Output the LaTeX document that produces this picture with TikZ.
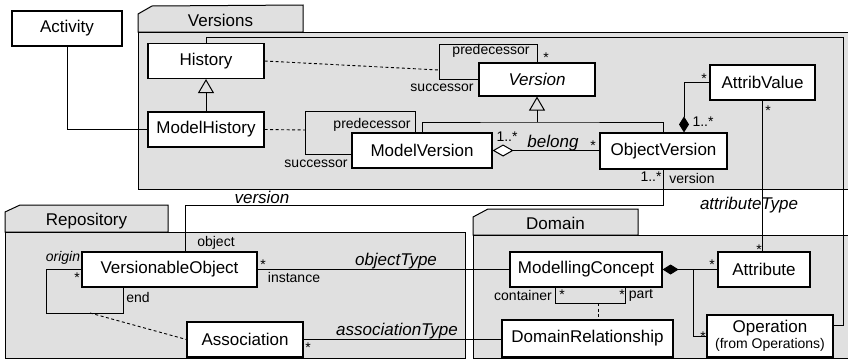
\documentclass[tikz,border=0pt]{standalone}
\usepackage{fontspec}
\setmainfont{Liberation Sans}
\usetikzlibrary{arrows.meta}

\tikzset{
  classe/.style={draw, fill=white, line width=1.1pt, inner sep=0pt, minimum height=35pt, font=\fontsize{17}{20}\selectfont},
  paquet/.style={draw, fill=black!12, line width=1pt},
  titre/.style={inner sep=0pt, font=\fontsize{17}{20}\selectfont},
  lien/.style={line width=1pt},
  pointille/.style={line width=0.9pt, dash pattern=on 3pt off 2.5pt},
  role/.style={inner sep=0pt, font=\fontsize{14}{16}\selectfont},
  nomassoc/.style={inner sep=0pt, font=\fontsize{17}{20}\selectfont\itshape},
  herite/.style={lien, -{Triangle[open, length=14pt, width=16pt]}},
  agreg/.style={lien, {Diamond[fill=white, length=21pt, width=12pt]}-},
  compo/.style={lien, {Diamond[length=16pt, width=10pt]}-},
}

\begin{document}
\begin{tikzpicture}[x=1pt, y=-1pt]
    \fill[white] (0,0) rectangle (848,362);
    \clip (0,0) rectangle (848,362);

    % Paquet Versions
    \draw[paquet] (138,14) -- (152,6) -- (303,5) -- (303,32) -- (138,32) -- cycle;
    \draw[paquet] (138,32) rectangle (852,189);
    \node[titre] (pversions) at (220.5,20) {Versions};

    % Paquet Repository
    \draw[paquet] (5,212) -- (20,205) -- (168,205) -- (168,232) -- (5,232) -- cycle;
    \draw[paquet] (5,232) rectangle (465,358);
    \node[titre] (prepository) at (86.5,221) {Repository};

    % Paquet Domain
    \draw[paquet] (473,217) -- (488,209) -- (638,209) -- (638,235) -- (473,235) -- cycle;
    \draw[paquet] (473,235) rectangle (852,358);
    \node[titre] (pdomain) at (555.5,223) {Domain};

    % Classes
    \node[classe, minimum width=110pt] (activity) at (67,28.5) {Activity};
    \node[classe, minimum width=116pt] (history) at (206,61) {History};
    \node[classe, minimum width=116pt] (modelhistory) at (206,129.5) {ModelHistory};
    \node[classe, minimum width=116pt, minimum height=33pt] (version) at (537,79.5) {\itshape Version};
    \node[classe, minimum width=140pt] (modelversion) at (422,150.5) {ModelVersion};
    \node[classe, minimum width=127pt, minimum height=36pt] (objectversion) at (663.5,151) {ObjectVersion};
    \node[classe, minimum width=105pt] (attribvalue) at (762.5,82.5) {AttribValue};
    \node[classe, minimum width=175pt] (versionable) at (169.5,269.5) {VersionableObject};
    \node[classe, minimum width=116pt] (association) at (245,339.5) {Association};
    \node[classe, minimum width=152pt] (concept) at (586,269.5) {ModellingConcept};
    \node[classe, minimum width=92pt] (attribute) at (764,269.5) {Attribute};
    \node[classe, minimum width=171pt, minimum height=37pt] (domainrel) at (587.5,338.5) {DomainRelationship};
    \node[classe, minimum width=126pt, minimum height=42pt, align=center] (operation) at (770,336)
        {Operation\\[-4pt]{\fontsize{14}{16}\selectfont (from Operations)}};

    % Coins et points libres
    \coordinate (vgen) at (537,122);
    \coordinate (vboucle) at (439,44);
    \coordinate (vlien) at (439,70);
    \coordinate (mvboucle) at (305,111);
    \coordinate (mvlien) at (305,130);
    \coordinate (voboucle) at (46,313);
    \coordinate (volien) at (90,313);
    \coordinate (mclien) at (598,303);
    \coordinate (hcoin) at (843,37);

    % Activity - ModelHistory
    \draw[lien] (activity.south) |- (modelhistory.west);

    % Heritages
    \draw[herite] (modelhistory.north) -- (history.south);
    \draw[lien] (modelversion.north) |- (vgen) -| (objectversion.north);
    \draw[herite] (vgen) -- (version.south);

    % Predecessor / successor
    \draw[lien] (version.north) |- (vboucle) |- (version.west);
    \draw[pointille] (history.east) -- (vlien);
    \draw[lien] ([xshift=-7pt]modelversion.north) |- (mvboucle) |- ([yshift=-3.5pt]modelversion.west);
    \draw[pointille] (modelhistory.east) -- (mvlien);

    % belong, AttribValue
    \draw[agreg] (modelversion.east) -- (modelversion.east -| objectversion.west);
    \draw[compo] ([xshift=20.5pt]objectversion.north) |- (attribvalue.west);
    \draw[lien] (attribvalue.south) -- (attribvalue.south |- attribute.north);

    % History - Operation
    \draw[lien] (history.north) |- (hcoin) |- ([yshift=11pt]operation.east);

    % version
    \draw[lien] (objectversion.south) -- ++(0,36) -| ([xshift=15.5pt]versionable.north);

    % Repository
    \draw[lien] (versionable.east) -- (concept.west);
    \draw[lien] (versionable.west) -| (voboucle) -| ([xshift=-46.5pt]versionable.south);
    \draw[pointille] (volien) -- (association.west);
    \draw[lien] (association.east) -- (association.east -| domainrel.west);

    % Domain
    \draw[lien] ([xshift=-31pt]concept.south) -- ++(0,16) -| ([xshift=39pt]concept.south);
    \draw[pointille] (mclien) -- (mclien |- domainrel.north);
    \draw[compo] (concept.east) -- (attribute.west);
    \draw[lien] ([xshift=31pt]concept.east) |- (operation.west);

    % Roles et noms
    \node[role] at (491,51) {predecessor};
    \node[role] at (546,58) {*};
    \node[role] at (442,88) {successor};
    \node[role] at (372,125) {predecessor};
    \node[role] at (316,164) {successor};
    \node[role] at (507,137) {1..*};
    \node[nomassoc] at (553,143) {belong};
    \node[role] at (593,146) {*};
    \node[role] at (704,79) {*};
    \node[role] at (703,122) {1..*};
    \node[role] at (768,111) {*};
    \node[role] at (759,250) {*};
    \node[nomassoc] at (749,205) {attributeType};
    \node[role] at (651,177) {1..*};
    \node[role] at (692,178) {version};
    \node[nomassoc] at (262,197) {version};
    \node[role] at (216,243) {object};
    \node[role] at (263,265) {*};
    \node[role] at (294,277) {instance};
    \node[nomassoc] at (396,261) {objectType};
    \node[role] at (63,258) {\itshape origin};
    \node[role] at (77,278) {*};
    \node[role] at (138,297) {end};
    \node[role] at (308,348) {*};
    \node[nomassoc] at (397,331) {associationType};
    \node[role] at (523,295) {container};
    \node[role] at (562,295) {*};
    \node[role] at (622,295) {*};
    \node[role] at (641,295) {part};
    \node[role] at (712,265) {*};
    \node[role] at (703,337) {*};
\end{tikzpicture}
\end{document}
